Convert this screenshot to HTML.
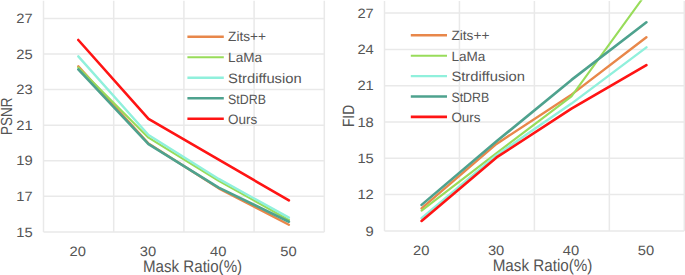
<!DOCTYPE html>
<html><head><meta charset="utf-8"><style>
html,body{margin:0;padding:0;background:#fff;}
body{width:685px;height:275px;overflow:hidden;}
svg{display:block;}
text{font-family:"Liberation Sans",sans-serif;font-size:13.6px;fill:#555555;text-rendering:geometricPrecision;}
</style></head><body>
<svg width="685" height="275" viewBox="0 0 685 275">
<rect width="685" height="275" fill="#fff"/>
<path d="M43.50 231.90H324.30 M43.50 196.33H324.30 M43.50 160.76H324.30 M43.50 125.19H324.30 M43.50 89.62H324.30 M43.50 54.05H324.30 M43.50 18.48H324.30 M43.50 0.69V231.90 M113.70 0.69V231.90 M183.90 0.69V231.90 M254.10 0.69V231.90 M324.30 0.69V231.90" stroke="#e9e9e9" stroke-width="1.5" fill="none"/>
<clipPath id="cl"><rect x="43.5" y="-0.11" width="280.8" height="233.21"/></clipPath>
<g clip-path="url(#cl)" fill="none" stroke-linecap="round" stroke-linejoin="round">
<polyline points="78.30,66.32 148.50,143.51 218.70,188.33 288.90,224.79" stroke="#e8874a" stroke-width="2.4"/>
<polyline points="78.30,67.39 148.50,137.64 218.70,180.86 288.90,219.98" stroke="#98dc5a" stroke-width="2.1"/>
<polyline points="78.30,56.36 148.50,134.97 218.70,178.90 288.90,217.67" stroke="#90f0dc" stroke-width="2.4"/>
<polyline points="78.30,69.35 148.50,144.22 218.70,187.62 288.90,221.76" stroke="#4ea28e" stroke-width="2.6"/>
<polyline points="78.30,40.00 148.50,118.79 218.70,159.69 288.90,200.42" stroke="#ff1414" stroke-width="2.6"/>
</g>
<text x="32.60" y="236.50" text-anchor="end" textLength="16.40" lengthAdjust="spacingAndGlyphs">15</text>
<text x="32.60" y="200.93" text-anchor="end" textLength="16.40" lengthAdjust="spacingAndGlyphs">17</text>
<text x="32.60" y="165.36" text-anchor="end" textLength="16.40" lengthAdjust="spacingAndGlyphs">19</text>
<text x="32.60" y="129.79" text-anchor="end" textLength="16.40" lengthAdjust="spacingAndGlyphs">21</text>
<text x="32.60" y="94.22" text-anchor="end" textLength="16.40" lengthAdjust="spacingAndGlyphs">23</text>
<text x="32.60" y="58.65" text-anchor="end" textLength="16.40" lengthAdjust="spacingAndGlyphs">25</text>
<text x="32.60" y="23.08" text-anchor="end" textLength="16.40" lengthAdjust="spacingAndGlyphs">27</text>
<text x="77.80" y="256.00" text-anchor="middle" textLength="16.40" lengthAdjust="spacingAndGlyphs">20</text>
<text x="148.00" y="256.00" text-anchor="middle" textLength="16.40" lengthAdjust="spacingAndGlyphs">30</text>
<text x="218.20" y="256.00" text-anchor="middle" textLength="16.40" lengthAdjust="spacingAndGlyphs">40</text>
<text x="288.40" y="256.00" text-anchor="middle" textLength="16.40" lengthAdjust="spacingAndGlyphs">50</text>
<text x="143.00" y="271.60" style="font-size:16.8px" textLength="99.10" lengthAdjust="spacingAndGlyphs">Mask Ratio(%)</text>
<text transform="translate(12.30 135.00) rotate(-90)" style="font-size:16.0px" textLength="37.40" lengthAdjust="spacingAndGlyphs">PSNR</text>
<line x1="187.40" y1="36.80" x2="223.80" y2="36.80" stroke="#e8874a" stroke-width="2.4"/>
<text x="228.10" y="41.45" textLength="38.00" lengthAdjust="spacingAndGlyphs">Zits++</text>
<line x1="187.40" y1="57.30" x2="223.80" y2="57.30" stroke="#98dc5a" stroke-width="2.1"/>
<text x="228.10" y="62.15" textLength="33.90" lengthAdjust="spacingAndGlyphs">LaMa</text>
<line x1="187.40" y1="77.80" x2="223.80" y2="77.80" stroke="#90f0dc" stroke-width="2.4"/>
<text x="228.10" y="82.85" textLength="73.60" lengthAdjust="spacingAndGlyphs">Strdiffusion</text>
<line x1="187.40" y1="98.30" x2="223.80" y2="98.30" stroke="#4ea28e" stroke-width="2.6"/>
<text x="228.10" y="103.55" textLength="37.80" lengthAdjust="spacingAndGlyphs">StDRB</text>
<line x1="187.40" y1="118.80" x2="223.80" y2="118.80" stroke="#ff1414" stroke-width="2.6"/>
<text x="228.10" y="124.25" textLength="29.20" lengthAdjust="spacingAndGlyphs">Ours</text>
<path d="M384.50 230.90H684.30 M384.50 194.60H684.30 M384.50 158.30H684.30 M384.50 122.00H684.30 M384.50 85.70H684.30 M384.50 49.40H684.30 M384.50 13.10H684.30 M384.50 1.00V230.90 M459.45 1.00V230.90 M534.40 1.00V230.90 M609.35 1.00V230.90 M684.30 1.00V230.90" stroke="#e9e9e9" stroke-width="1.5" fill="none"/>
<clipPath id="cr"><rect x="384.5" y="0.20" width="299.79999999999995" height="231.90"/></clipPath>
<g clip-path="url(#cr)" fill="none" stroke-linecap="round" stroke-linejoin="round">
<polyline points="421.58,208.39 496.52,143.90 571.48,94.65 646.42,37.30" stroke="#e8874a" stroke-width="2.4"/>
<polyline points="421.58,210.57 496.52,153.10 571.48,96.35 646.42,-6.86" stroke="#98dc5a" stroke-width="2.1"/>
<polyline points="421.58,218.19 496.52,155.15 571.48,103.61 646.42,47.34" stroke="#90f0dc" stroke-width="2.4"/>
<polyline points="421.58,204.88 496.52,141.36 571.48,79.89 646.42,22.30" stroke="#4ea28e" stroke-width="2.6"/>
<polyline points="421.58,220.98 496.52,157.45 571.48,108.69 646.42,65.13" stroke="#ff1414" stroke-width="2.6"/>
</g>
<text x="373.80" y="235.50" text-anchor="end" textLength="8.20" lengthAdjust="spacingAndGlyphs">9</text>
<text x="373.80" y="199.20" text-anchor="end" textLength="16.40" lengthAdjust="spacingAndGlyphs">12</text>
<text x="373.80" y="162.90" text-anchor="end" textLength="16.40" lengthAdjust="spacingAndGlyphs">15</text>
<text x="373.80" y="126.60" text-anchor="end" textLength="16.40" lengthAdjust="spacingAndGlyphs">18</text>
<text x="373.80" y="90.30" text-anchor="end" textLength="16.40" lengthAdjust="spacingAndGlyphs">21</text>
<text x="373.80" y="54.00" text-anchor="end" textLength="16.40" lengthAdjust="spacingAndGlyphs">24</text>
<text x="373.80" y="17.70" text-anchor="end" textLength="16.40" lengthAdjust="spacingAndGlyphs">27</text>
<text x="421.18" y="255.00" text-anchor="middle" textLength="16.40" lengthAdjust="spacingAndGlyphs">20</text>
<text x="496.12" y="255.00" text-anchor="middle" textLength="16.40" lengthAdjust="spacingAndGlyphs">30</text>
<text x="571.08" y="255.00" text-anchor="middle" textLength="16.40" lengthAdjust="spacingAndGlyphs">40</text>
<text x="646.02" y="255.00" text-anchor="middle" textLength="16.40" lengthAdjust="spacingAndGlyphs">50</text>
<text x="492.70" y="271.00" style="font-size:16.8px" textLength="99.70" lengthAdjust="spacingAndGlyphs">Mask Ratio(%)</text>
<text transform="translate(353.90 127.10) rotate(-90)" style="font-size:16.3px" textLength="22.20" lengthAdjust="spacingAndGlyphs">FID</text>
<line x1="410.80" y1="35.30" x2="447.00" y2="35.30" stroke="#e8874a" stroke-width="2.4"/>
<text x="451.40" y="40.35" textLength="38.00" lengthAdjust="spacingAndGlyphs">Zits++</text>
<line x1="410.80" y1="55.70" x2="447.00" y2="55.70" stroke="#98dc5a" stroke-width="2.1"/>
<text x="451.40" y="60.75" textLength="33.90" lengthAdjust="spacingAndGlyphs">LaMa</text>
<line x1="410.80" y1="76.10" x2="447.00" y2="76.10" stroke="#90f0dc" stroke-width="2.4"/>
<text x="451.40" y="81.15" textLength="73.60" lengthAdjust="spacingAndGlyphs">Strdiffusion</text>
<line x1="410.80" y1="96.50" x2="447.00" y2="96.50" stroke="#4ea28e" stroke-width="2.6"/>
<text x="451.40" y="101.55" textLength="37.80" lengthAdjust="spacingAndGlyphs">StDRB</text>
<line x1="410.80" y1="116.90" x2="447.00" y2="116.90" stroke="#ff1414" stroke-width="2.6"/>
<text x="451.40" y="121.95" textLength="29.20" lengthAdjust="spacingAndGlyphs">Ours</text>
</svg>
</body></html>
